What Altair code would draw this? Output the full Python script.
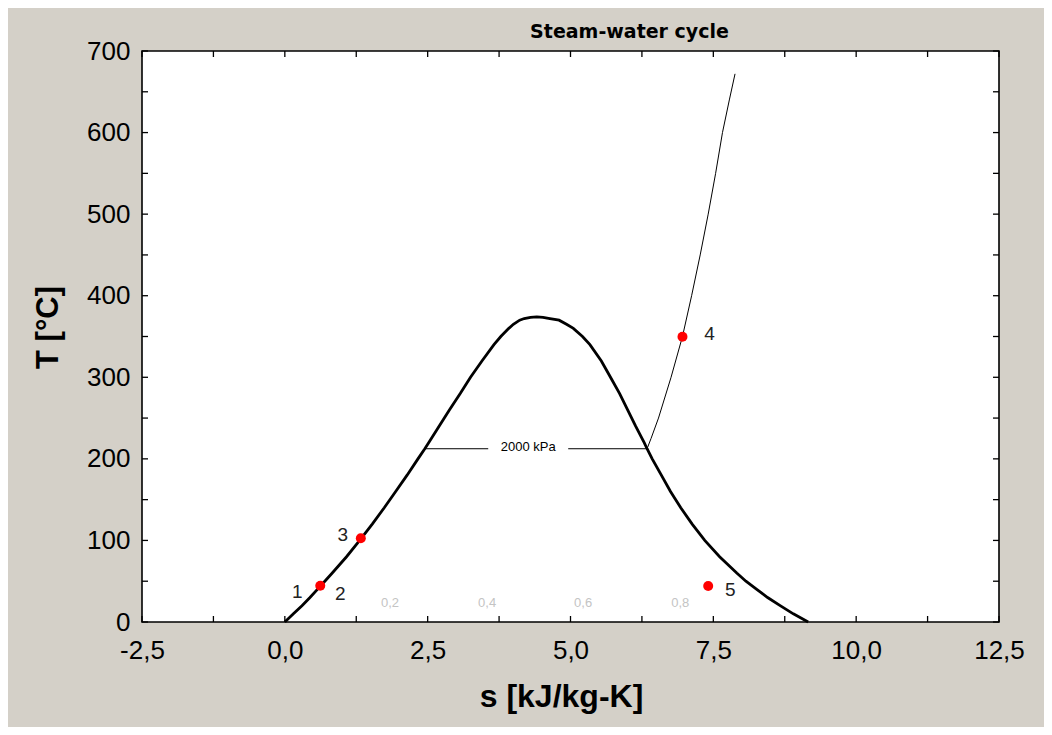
import altair as alt
import pandas as pd

# Saturation dome (liquid side up to critical point, then vapour side down)
dome_s = [0.00, 0.15, 0.30, 0.44, 0.57, 0.70, 0.83, 1.08, 1.31, 1.53, 1.74, 1.94, 2.14, 2.33, 2.45,
          2.52, 2.70, 2.88, 3.07, 3.25, 3.45, 3.66, 3.78, 3.92, 4.00, 4.11, 4.19, 4.30, 4.41,
          4.52, 4.64, 4.80, 4.93, 5.05, 5.21, 5.34, 5.54, 5.70, 5.86, 6.00, 6.14, 6.29, 6.34,
          6.43, 6.59, 6.75, 6.93, 7.13, 7.35, 7.61, 7.91, 8.07, 8.26, 8.45, 8.67, 8.90, 9.16]
dome_T = [0, 10, 20, 30, 40, 50, 60, 80, 100, 120, 140, 160, 180, 200, 212.4,
          220, 240, 260, 280, 300, 320, 340, 350, 360, 365, 370, 372, 373.5, 374,
          373.5, 372, 370, 365, 360, 350, 340, 320, 300, 280, 260, 240, 220, 212.4,
          200, 180, 160, 140, 120, 100, 80, 60, 50, 40, 30, 20, 10, 0]

# 2000 kPa isobar, superheated part
iso_s = [6.34, 6.41, 6.54, 6.76, 6.96, 7.12, 7.27, 7.41, 7.54, 7.66, 7.78, 7.88]
iso_T = [212.4, 225, 250, 300, 350, 400, 450, 500, 550, 600, 640, 672]

# 2000 kPa isobar, two-phase part (split around its label)
bar_s = [2.45, 3.56, 4.96, 6.34]
bar_T = [212.4, 212.4, 212.4, 212.4]
bar_seg = ["a", "a", "b", "b"]
iso_label = ["2000 kPa"]
iso_label_s = [4.26]
iso_label_T = [212.4]

# State points
pt_label = ["1", "2", "3", "4", "5"]
pt_s = [0.62, 0.62, 1.33, 6.96, 7.41]
pt_T = [44.5, 44.5, 102.6, 349.8, 44.1]
pt_show = [True, False, True, True, True]
pt_dx = [-23, 20, -18, 27, 22]
pt_dy = [6, 8, -3, -3, 4]

# Quality labels
q_label = ["0,2", "0,4", "0,6", "0,8"]
q_s = [1.84, 3.54, 5.22, 6.92]
q_T = [22.7, 22.7, 22.7, 22.7]

# Tick values
x_ticks = [-2.5, -1.25, 0.0, 1.25, 2.5, 3.75, 5.0, 6.25, 7.5, 8.75, 10.0, 11.25, 12.5]
x_labels = [-2.5, 0.0, 2.5, 5.0, 7.5, 10.0, 12.5]
y_ticks = [0, 50, 100, 150, 200, 250, 300, 350, 400, 450, 500, 550, 600, 650, 700]
y_labels = [0, 100, 200, 300, 400, 500, 600, 700]

W, H = 857, 571
FONT = "Liberation Sans"

xaxis = alt.Axis(values=x_labels,
                 labelExpr="replace(replace(format(datum.value, '.1f'), '.', ','), '\u2212', '-')",
                 labelFont=FONT, labelFontSize=26, labelColor="black", labelPadding=15,
                 labelFlush=False, ticks=False, domain=False, grid=False,
                 title="s [kJ/kg-K]", titleFont=FONT, titleFontSize=32, titleFontWeight="bold",
                 titleColor="black", titleX=419, titleY=74, titleBaseline="middle", titleAlign="center")
yaxis = alt.Axis(values=y_labels, format="d",
                 labelFont=FONT, labelFontSize=26, labelColor="black", labelPadding=12,
                 labelFlush=False, ticks=False, domain=False, grid=False,
                 title="T [°C]", titleFont=FONT, titleFontSize=31, titleFontWeight="bold",
                 titleColor="black", titleX=-94, titleY=276, titleBaseline="middle",
                 titleAlign="center", titleAngle=-90)
xs = alt.Scale(domain=[-2.5, 12.5], nice=False, zero=False)
ys = alt.Scale(domain=[0, 700], nice=False, zero=False)
X = alt.X("s:Q", scale=xs, axis=xaxis)
Y = alt.Y("T:Q", scale=ys, axis=yaxis)

dome = pd.DataFrame({"s": dome_s, "T": dome_T, "o": list(range(len(dome_s)))})
iso = pd.DataFrame({"s": iso_s, "T": iso_T, "o": list(range(len(iso_s)))})
bar = pd.DataFrame({"s": bar_s, "T": bar_T, "seg": bar_seg})
pts = pd.DataFrame({"s": pt_s, "T": pt_T, "lab": pt_label, "show": pt_show})
ql = pd.DataFrame({"s": q_s, "T": q_T, "lab": q_label})
il = pd.DataFrame({"s": iso_label_s, "T": iso_label_T, "lab": iso_label})
xt = pd.DataFrame({"s": x_ticks})
yt = pd.DataFrame({"T": y_ticks})

layers = [
    alt.Chart(dome).mark_line(color="black", strokeWidth=2.8).encode(x=X, y=Y, order="o:Q"),
    alt.Chart(iso).mark_line(color="black", strokeWidth=1).encode(x=X, y=Y, order="o:Q"),
    alt.Chart(bar).mark_line(color="black", strokeWidth=1).encode(x=X, y=Y, detail="seg:N"),
    alt.Chart(il).mark_text(font=FONT, fontSize=13, color="black", baseline="middle", dy=-2).encode(x=X, y=Y, text="lab:N"),
    alt.Chart(ql).mark_text(font=FONT, fontSize=13, color="#c4c4c4", baseline="middle").encode(x=X, y=Y, text="lab:N"),
    alt.Chart(pts[pts["show"]]).mark_point(filled=True, shape="circle", size=100, color="#ff0000", opacity=1).encode(x=X, y=Y),
]
for i, lab in enumerate(pt_label):
    one = pts.iloc[[i]]
    layers.append(alt.Chart(one).mark_text(font=FONT, fontSize=19, color="#222222", baseline="middle",
                                           dx=pt_dx[i], dy=pt_dy[i]).encode(x=X, y=Y, text="lab:N"))
layers += [
    alt.Chart(xt).mark_rule(color="black", strokeWidth=1.3).encode(x=X, y=alt.value(H), y2=alt.value(H - 6)),
    alt.Chart(xt).mark_rule(color="black", strokeWidth=1.3).encode(x=X, y=alt.value(0), y2=alt.value(6)),
    alt.Chart(yt).mark_rule(color="black", strokeWidth=1.3).encode(y=Y, x=alt.value(0), x2=alt.value(6)),
    alt.Chart(yt).mark_rule(color="black", strokeWidth=1.3).encode(y=Y, x=alt.value(W), x2=alt.value(W - 6)),
]

chart = alt.layer(*layers).properties(
    width=W, height=H,
    title=alt.TitleParams("Steam-water cycle", font="DejaVu Sans", fontSize=19, fontWeight="bold",
                          color="black", anchor="middle", dx=59, dy=17, offset=13),
    background="#d4d0c8",
    padding={"left": 134, "top": 43, "right": 45, "bottom": 105},
    autosize=alt.AutoSizeParams(type="none"),
).configure_view(fill="white", stroke="black", strokeWidth=1.6)

chart.save("out.html", embed_options={"renderer": "svg", "actions": False})
